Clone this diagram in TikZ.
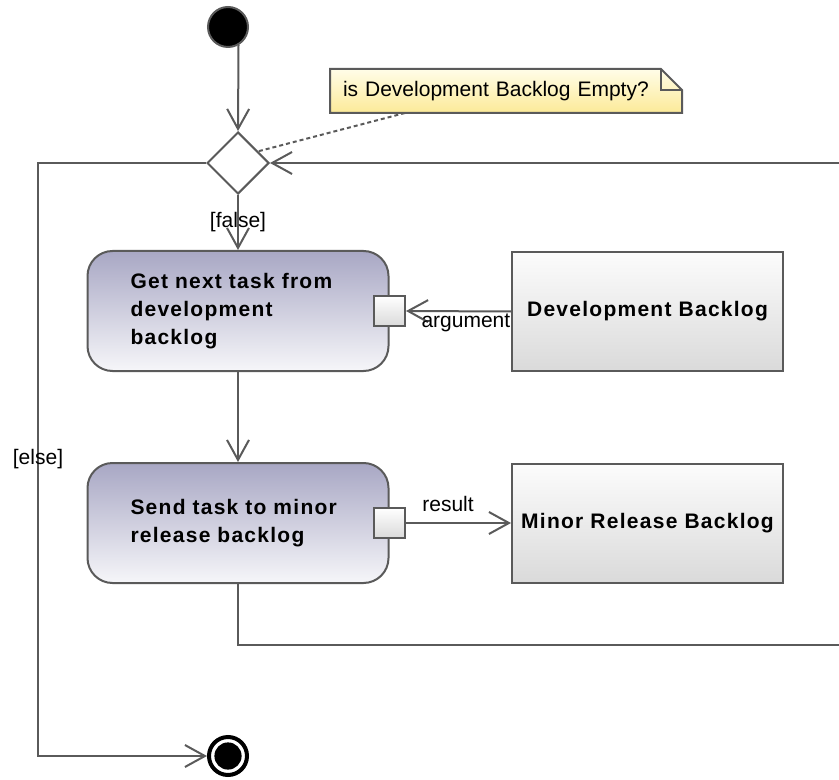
\documentclass[tikz,border=0pt]{standalone}
\usepackage{fontspec}
\setmainfont{Liberation Sans}
\newfontfamily\spacedbold[LetterSpace=6]{Liberation Sans}
\usetikzlibrary{arrows.meta, positioning, shapes.geometric}
\definecolor{cline}{HTML}{5A5A5A}
\definecolor{cacttop}{HTML}{A8A7C4}
\definecolor{cactbot}{HTML}{F6F6F9}
\definecolor{cobjtop}{HTML}{FCFCFC}
\definecolor{cobjbot}{HTML}{DADADA}
\definecolor{cnotetop}{HTML}{FFFDE8}
\definecolor{cnotebot}{HTML}{FCEA98}
\tikzset{
  every picture/.style={font=\fontsize{10.5}{12.5}\selectfont, line width=1pt},
  action/.style={draw=cline, rounded corners=12.5pt, top color=cacttop, bottom color=cactbot,
    minimum height=60pt, text width=107.5pt, inner xsep=21.5pt, align=left,
    font=\spacedbold\bfseries\fontsize{10.5}{14}\selectfont},
  objbox/.style={draw=cline, top color=cobjtop, bottom color=cobjbot, minimum width=135.5pt,
    minimum height=59.5pt, font=\spacedbold\bfseries\fontsize{10.5}{14}\selectfont},
  pinbox/.style={draw=cline, top color=white, bottom color=cobjbot, minimum width=15.5pt,
    minimum height=15pt, inner sep=0pt},
  decision/.style={diamond, draw=cline, fill=white, aspect=1, minimum size=31pt, inner sep=0pt},
  startnode/.style={circle, draw=cline, fill=black, minimum size=20pt, inner sep=0pt},
  endnode/.style={circle, draw=black, line width=2pt, minimum size=19pt, inner sep=0pt,
    path picture={\fill[black] (path picture bounding box.center) circle (6.8pt);}},
  notebox/.style={text width=163pt, inner xsep=6pt, minimum height=21pt, align=left},
  arr/.style={-{Straight Barb[length=10pt, width=11pt]}, draw=cline},
  guard/.style={inner sep=1pt},
}

\begin{document}
\begin{tikzpicture}[x=0.5pt, y=-0.5pt]
  \useasboundingbox (0,0) rectangle (839,780);
  \clip (0,0) rectangle (839,780);
  % nodes
  \node[startnode] (start) at (228,27) {};
  \node[decision] (dec) at (238,163) {};
  \node[notebox, anchor=west] (note) at (330,91) {is Development Backlog Empty?};
  \node[action] (actA) at (238,311) {Get next task from\\development\\backlog};
  \node[action] (actB) at (238,523) {Send task to minor\\release backlog};
  \node[pinbox] (pinA) at (actA.east) {};
  \node[pinbox] (pinB) at (actB.east) {};
  \node[objbox] (devB) at (647.5,311.5) {Development Backlog};
  \node[objbox] (minB) at (647.5,523) {Minor Release Backlog};
  \node[endnode] (final) at (228,756) {};
  \coordinate (loopR) at (845,645);
  \coordinate (elseC) at (38,756);
  % note with folded corner
  \path[draw=cline, top color=cnotetop, bottom color=cnotebot]
    (note.south west) -- (note.north west) -- ([xshift=-10.5pt]note.north east)
    -- ([yshift=-10.5pt]note.north east) -- (note.south east) -- cycle;
  \draw[cline] ([xshift=-10.5pt]note.north east) |- ([yshift=-10.5pt]note.north east);
  \node[notebox, anchor=west] at (note.west) {is Development Backlog Empty?};
  \draw[cline, dashed, dash pattern=on 2pt off 1.5pt] ([xshift=37.5pt]note.south west) -- (dec.30);
  % flows
  \draw[arr] (start.-60) -- (dec.north);
  \draw[arr] (dec.south) -- node[guard] {[false]} (actA.north);
  \draw[arr] (actA.south) -- (actB.north);
  \draw[arr] (devB.west) -- node[guard, below, pos=0.43] {argument} (pinA.east);
  \draw[arr] (pinB.east) -- node[guard, above=4pt, pos=0.4] {result} (minB.west);
  \draw[arr] (actB.south) |- (loopR) |- (dec.east);
  \draw[arr] (dec.west) -| node[guard, pos=0.75] {[else]} (elseC) -- (final.west);
\end{tikzpicture}
\end{document}
